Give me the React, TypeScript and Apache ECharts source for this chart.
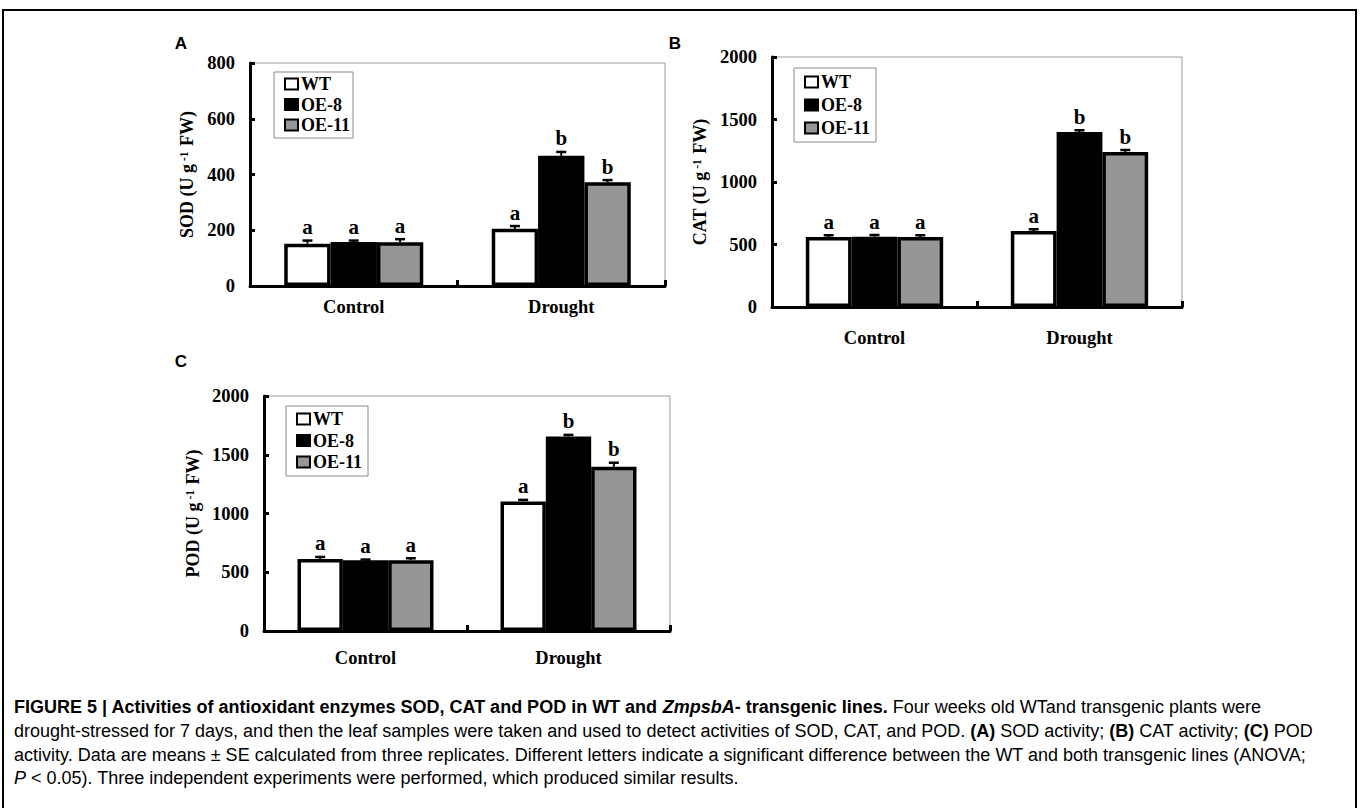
import React, { useEffect, useRef } from "react";
import * as echarts from "echarts";

const categories = ["Control", "Drought"];
const seriesNames = ["WT", "OE-8", "OE-11"];
const seriesColors = ["#ffffff", "#000000", "#969696"];

// Panel A: SOD
const sodWT = [152, 205];
const sodOE8 = [158, 467];
const sodOE11 = [157, 372];
const sodErrWT = [11, 10];
const sodErrOE8 = [5, 14];
const sodErrOE11 = [11, 8];
const sodLetters = [["a", "a"], ["a", "b"], ["a", "b"]];
const sodTicks = [0, 200, 400, 600, 800];

// Panel B: CAT
const catWT = [560, 608];
const catOE8 = [562, 1400];
const catOE11 = [560, 1240];
const catErrWT = [14, 14];
const catErrOE8 = [14, 14];
const catErrOE11 = [14, 16];
const catLetters = [["a", "a"], ["a", "b"], ["a", "b"]];
const catTicks = [0, 500, 1000, 1500, 2000];

// Panel C: POD
const podWT = [612, 1102];
const podOE8 = [602, 1655];
const podOE11 = [603, 1398];
const podErrWT = [18, 14];
const podErrOE8 = [6, 14];
const podErrOE11 = [16, 34];
const podLetters = [["a", "a"], ["a", "b"], ["a", "b"]];
const podTicks = [0, 500, 1000, 1500, 2000];

const SERIF = '"Liberation Serif", "Times New Roman", serif';
const SANS = '"Liberation Sans", Arial, sans-serif';
const CAT_GAP = 0.33;

function buildPanel(
  idx: number,
  vals: number[][],
  errs: number[][],
  letters: string[][],
  ticks: number[],
  yName: string,
  grid: { left: number; top: number; width: number; height: number },
  nameGap: number,
  xLabelMargin: number,
  legendPos: { left: number; top: number; gap: number; pad: number[] }
) {
  const interval = ticks[1] - ticks[0];
  const gridOpt = { ...grid, show: true, borderColor: "#9a9a9a", borderWidth: 1, backgroundColor: "transparent" };
  const xAxis = {
    type: "category",
    gridIndex: idx,
    data: categories,
    axisLine: { show: true, lineStyle: { color: "#000", width: 3 } },
    axisTick: { show: true, inside: true, length: 6, lineStyle: { color: "#000", width: 3 } },
    axisLabel: { margin: xLabelMargin, color: "#000", fontFamily: SERIF, fontWeight: "bold", fontSize: 18.5 },
    splitLine: { show: false },
  };
  const yAxis = {
    type: "value",
    gridIndex: idx,
    min: ticks[0],
    max: ticks[ticks.length - 1],
    interval,
    name: `{n|${yName} (U g}{s|-1}{n| FW)}`,
    nameLocation: "middle",
    nameRotate: 90,
    nameGap,
    nameTextStyle: {
      rich: {
        n: { fontFamily: SERIF, fontWeight: "bold", fontSize: 18, color: "#000" },
        s: { fontFamily: SERIF, fontWeight: "bold", fontSize: 11.5, color: "#000", verticalAlign: "top", padding: [0, 1, 0, 3] },
      },
    },
    axisLine: { show: true, lineStyle: { color: "#000", width: 3 } },
    axisTick: { show: true, inside: true, length: 5, lineStyle: { color: "#000", width: 3 } },
    axisLabel: {
      margin: 15,
      color: "#000",
      fontFamily: SERIF,
      fontWeight: "bold",
      fontSize: 18.5,
      formatter: (v: number) => String(v),
    },
    splitLine: { show: false },
  };
  const bars = vals.map((v, s) => ({
    name: seriesNames[s],
    type: "bar",
    xAxisIndex: idx,
    yAxisIndex: idx,
    data: v,
    barGap: "0%",
    barCategoryGap: `${CAT_GAP * 100}%`,
    itemStyle: { color: seriesColors[s], borderColor: "#000", borderWidth: 3.5 },
    z: 2,
  }));
  const errData: number[][] = [];
  const errLetters: string[] = [];
  vals.forEach((v, s) => {
    v.forEach((val, c) => {
      errData.push([c, val, errs[s][c], s]);
      errLetters.push(letters[s][c]);
    });
  });
  const custom = {
    type: "custom",
    xAxisIndex: idx,
    yAxisIndex: idx,
    data: errData,
    z: 5,
    silent: true,
    renderItem: (params: any, api: any) => {
      const c = api.value(0);
      const v = api.value(1);
      const e = api.value(2);
      const s = api.value(3);
      const band = api.size([1, 0])[0];
      const bw = (band * (1 - CAT_GAP)) / 3;
      const base = api.coord([c, v]);
      const x = base[0] + (s - 1) * bw;
      const yTop = api.coord([c, v + e])[1];
      return {
        type: "group",
        children: [
          { type: "line", shape: { x1: x, y1: base[1], x2: x, y2: yTop }, style: { stroke: "#000", lineWidth: 2 } },
          { type: "line", shape: { x1: x - 5, y1: yTop, x2: x + 5, y2: yTop }, style: { stroke: "#000", lineWidth: 2.5 } },
          {
            type: "text",
            x,
            y: yTop - 3,
            style: {
              text: errLetters[params.dataIndex],
              fill: "#000",
              font: `bold 21px ${SERIF}`,
              align: "center",
              verticalAlign: "bottom",
            },
          },
        ],
      };
    },
  };
  const legend = {
    orient: "vertical",
    left: legendPos.left,
    top: legendPos.top,
    data: seriesNames,
    itemWidth: 13,
    itemHeight: 11,
    itemGap: legendPos.gap,
    icon: "rect",
    padding: legendPos.pad,
    borderColor: "#8a8a8a",
    borderWidth: 1,
    borderRadius: 0,
    backgroundColor: "#fff",
    selectedMode: false,
    itemStyle: { borderColor: "#000", borderWidth: 2 },
    textStyle: { fontFamily: SERIF, fontWeight: "bold", fontSize: 18, color: "#000", padding: [0, 0, 0, -2], lineHeight: 17 },
  };
  return { grid: gridOpt, xAxis, yAxis, series: [...bars, custom], legend };
}

const captionBase = { fontFamily: SANS, fontSize: 18, color: "#2b2b2b" };
const captionRich = {
  n: { ...captionBase },
  b: { ...captionBase, fontWeight: "bold", color: "#1a1a1a" },
  bi: { ...captionBase, fontWeight: "bold", fontStyle: "italic", color: "#1a1a1a" },
  i: { ...captionBase, fontStyle: "italic" },
};
const captionLines = [
  "{b|FIGURE 5 | Activities of antioxidant enzymes SOD, CAT and POD in WT and }{bi|ZmpsbA}{b|- transgenic lines.}{n| Four weeks old WTand transgenic plants were}",
  "{n|drought-stressed for 7 days, and then the leaf samples were taken and used to detect activities of SOD, CAT, and POD. }{b|(A)}{n| SOD activity; }{b|(B)}{n| CAT activity; }{b|(C)}{n| POD}",
  "{n|activity. Data are means ± SE calculated from three replicates. Different letters indicate a significant difference between the WT and both transgenic lines (ANOVA;}",
  "{i|P}{n| < 0.05). Three independent experiments were performed, which produced similar results.}",
];
const captionY = [707, 731, 755, 778];

export default function App() {
  const ref = useRef<HTMLDivElement>(null);
  useEffect(() => {
    if (!ref.current) return;
    const chart = echarts.init(ref.current, undefined, { renderer: "svg" });
    const panels = [
      buildPanel(0, [sodWT, sodOE8, sodOE11], [sodErrWT, sodErrOE8, sodErrOE11], sodLetters, sodTicks, "SOD",
        { left: 250, top: 63, width: 415, height: 223 }, 54, 11, { left: 274, top: 72, gap: 2.5, pad: [3, 3, 4, 10] }),
      buildPanel(1, [catWT, catOE8, catOE11], [catErrWT, catErrOE8, catErrOE11], catLetters, catTicks, "CAT",
        { left: 772, top: 57, width: 410, height: 250 }, 63, 21, { left: 794, top: 68, gap: 5, pad: [5, 6, 5, 10] }),
      buildPanel(2, [podWT, podOE8, podOE11], [podErrWT, podErrOE8, podErrOE11], podLetters, podTicks, "POD",
        { left: 264, top: 396, width: 406, height: 235 }, 62, 17, { left: 286, top: 406, gap: 3.5, pad: [4, 6, 5, 10] }),
    ];
    const graphics: any[] = [
      { type: "rect", shape: { x: 3, y: 10, width: 1353, height: 805 }, style: { fill: "none", stroke: "#000", lineWidth: 2 }, z: 0 },
      { type: "text", x: 181, y: 43, style: { text: "A", font: `bold 17px ${SANS}`, fill: "#000", align: "center", verticalAlign: "middle" } },
      { type: "text", x: 675, y: 43, style: { text: "B", font: `bold 17px ${SANS}`, fill: "#000", align: "center", verticalAlign: "middle" } },
      { type: "text", x: 181, y: 361, style: { text: "C", font: `bold 17px ${SANS}`, fill: "#000", align: "center", verticalAlign: "middle" } },
      ...captionLines.map((t, i) => ({
        type: "text",
        x: 14,
        y: captionY[i],
        style: { text: t, rich: captionRich, align: "left", verticalAlign: "middle", ...captionBase },
      })),
    ];
    chart.setOption({
      animation: false,
      backgroundColor: "#fff",
      grid: panels.map((p) => p.grid),
      xAxis: panels.map((p) => p.xAxis),
      yAxis: panels.map((p) => p.yAxis),
      legend: panels.map((p) => p.legend),
      series: panels.flatMap((p) => p.series),
      graphic: graphics,
    });
    return () => chart.dispose();
  }, []);
  return <div ref={ref} style={{ position: "fixed", left: 0, top: 0, width: 1360, height: 808 }} />;
}
